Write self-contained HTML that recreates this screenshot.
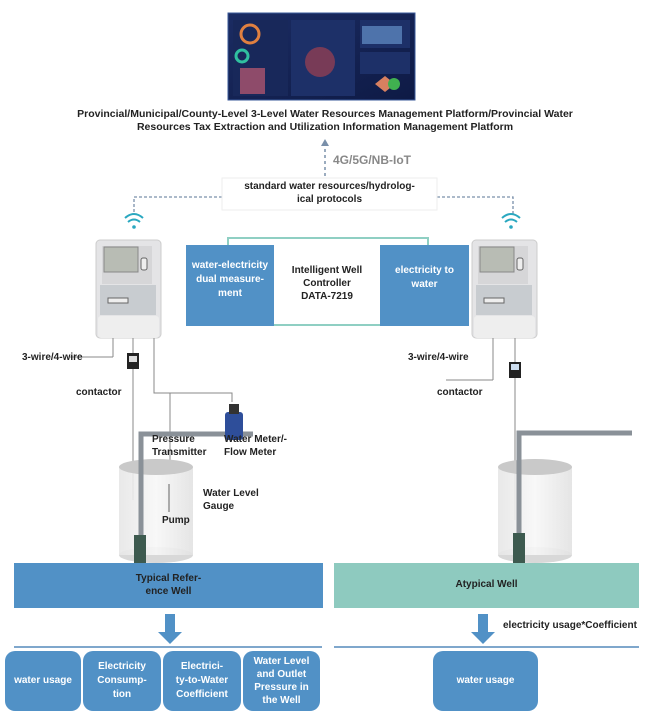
<!DOCTYPE html>
<html><head><meta charset="utf-8"><style>
body{margin:0;width:651px;height:717px;background:#fff;position:relative;overflow:hidden;font-family:"Liberation Sans",sans-serif;}
.t{position:absolute;font-weight:bold;font-size:10px;color:#222;line-height:13px;}
.c{text-align:center;}
.b{position:absolute;background:#5191c6;color:#fff;font-weight:bold;font-size:10px;text-align:center;display:flex;align-items:center;justify-content:center;line-height:14px;}
</style></head><body>
<svg width="651" height="717" style="position:absolute;left:0;top:0">
<defs>
<linearGradient id="dash" x1="0" y1="0" x2="1" y2="1"><stop offset="0" stop-color="#1b2c63"/><stop offset="1" stop-color="#0e1a45"/></linearGradient>
<linearGradient id="cyl" x1="0" x2="1"><stop offset="0" stop-color="#e6e6e6"/><stop offset="0.5" stop-color="#f7f7f7"/><stop offset="1" stop-color="#e2e2e2"/></linearGradient>
</defs>
<rect x="228" y="13" width="187" height="87" fill="url(#dash)" stroke="#3a5a9a"/>
<rect x="233" y="20" width="55" height="76" fill="#18285a"/>
<circle cx="250" cy="34" r="9" fill="none" stroke="#e08040" stroke-width="3"/>
<circle cx="242" cy="56" r="6" fill="none" stroke="#30c0a0" stroke-width="3"/>
<rect x="240" y="68" width="25" height="26" fill="#c05a70" opacity=".7"/>
<rect x="291" y="20" width="64" height="76" fill="#1d3068"/>
<circle cx="320" cy="62" r="15" fill="#a04050" opacity=".7"/>
<rect x="360" y="20" width="50" height="28" fill="#1d3068"/>
<rect x="362" y="26" width="40" height="18" fill="#6fa0d8" opacity=".6"/>
<rect x="360" y="52" width="50" height="22" fill="#1d3068"/>
<path d="M375 84 l10 -8 l10 8 l-10 8z" fill="#d88060"/>
<circle cx="394" cy="84" r="6" fill="#40b050"/>
<line x1="325" y1="176" x2="325" y2="145" stroke="#7a90aa" stroke-width="1.5" stroke-dasharray="3,3"/>
<path d="M321 146 L325 139 L329 146Z" fill="#7a90aa"/>
<path d="M222 197 H134 V215 M437 197 H513 V215" fill="none" stroke="#7a90aa" stroke-width="1.3" stroke-dasharray="3,2"/>
<rect x="222" y="178" width="215" height="32" fill="#fff" stroke="#eee"/>
<g fill="none" stroke="#2aa8c0" stroke-width="2">
<path d="M128 222 q6 -5 12 0"/><path d="M125 218 q9 -8 18 0"/>
<path d="M505 222 q6 -5 12 0"/><path d="M502 218 q9 -8 18 0"/>
</g>
<circle cx="134" cy="227" r="1.8" fill="#2aa8c0"/><circle cx="511" cy="227" r="1.8" fill="#2aa8c0"/>
<rect x="228" y="238" width="200" height="87" fill="#fff" stroke="#8fcfc3" stroke-width="2"/>
<g id="m">
<rect x="96" y="240" width="65" height="98" rx="4" fill="#e4e4e6" stroke="#ccc"/>
<rect x="102" y="246" width="50" height="38" fill="#d6d6d8"/>
<rect x="104" y="247" width="34" height="25" fill="#b8bcb4" stroke="#888"/>
<rect x="141" y="258" width="6" height="12" rx="2" fill="#eee" stroke="#666"/>
<rect x="100" y="285" width="56" height="30" fill="#c8ccd0"/>
<rect x="108" y="298" width="20" height="5" fill="#eee" stroke="#666"/>
<rect x="98" y="316" width="61" height="22" rx="3" fill="#eeeeee"/>
</g>
<use href="#m" transform="translate(376,0)"/>
<g stroke="#888" stroke-width="1" fill="none">
<line x1="70" y1="357" x2="113" y2="357"/><line x1="113" y1="338" x2="113" y2="357"/>
<line x1="133" y1="338" x2="133" y2="500"/>
<path d="M154 338 V393 H232 V402"/>
<line x1="170" y1="393" x2="170" y2="470"/>
<line x1="446" y1="380" x2="493" y2="380"/><line x1="493" y1="338" x2="493" y2="380"/>
<line x1="515" y1="338" x2="515" y2="520"/>
</g>
<rect x="127" y="353" width="12" height="16" fill="#222"/><rect x="129" y="356" width="8" height="6" fill="#ddd"/>
<rect x="509" y="362" width="12" height="16" fill="#222"/><rect x="511" y="364" width="8" height="6" fill="#cde"/>
<ellipse cx="156" cy="555" rx="37" ry="8" fill="#d8d8d8"/>
<rect x="119" y="467" width="74" height="88" fill="url(#cyl)" opacity=".9"/>
<ellipse cx="156" cy="467" rx="37" ry="8" fill="#c9c9c9"/>
<path d="M141 536 V434 H253" fill="none" stroke="#8a9198" stroke-width="5"/>
<rect x="134" y="535" width="12" height="45" fill="#3d5a4f"/>
<rect x="168" y="484" width="2" height="28" fill="#aaa"/>
<rect x="225" y="412" width="18" height="28" rx="3" fill="#2e4e9a"/>
<rect x="229" y="404" width="10" height="10" fill="#333"/>
<ellipse cx="535" cy="555" rx="37" ry="8" fill="#d8d8d8"/>
<rect x="498" y="467" width="74" height="88" fill="url(#cyl)" opacity=".9"/>
<ellipse cx="535" cy="467" rx="37" ry="8" fill="#c9c9c9"/>
<path d="M519 534 V433 H632" fill="none" stroke="#8a9198" stroke-width="5"/>
<rect x="513" y="533" width="12" height="45" fill="#3d5a4f"/>
<rect x="14" y="563" width="309" height="45" fill="#5191c6"/>
<rect x="334" y="563" width="305" height="45" fill="#8ecabf"/>
<path d="M165 614 h10 v18 h7 l-12 12 l-12 -12 h7z" fill="#5191c6"/>
<path d="M478 614 h10 v18 h7 l-12 12 l-12 -12 h7z" fill="#5191c6"/>
<line x1="14" y1="647" x2="322" y2="647" stroke="#7fa7cc" stroke-width="2"/>
<line x1="334" y1="647" x2="639" y2="647" stroke="#7fa7cc" stroke-width="2"/>
</svg>
<div class="t c" style="left:30px;top:108px;width:590px;font-size:10.5px;">Provincial/Municipal/County-Level 3-Level Water Resources Management Platform/Provincial Water<br>Resources Tax Extraction and Utilization Information Management Platform</div>
<div style="position:absolute;left:333px;top:153px;font-size:12px;color:#888;font-weight:bold;">4G/5G/NB-IoT</div>
<div class="t c" style="left:222px;top:180px;width:215px;">standard water resources/hydrolog-<br>ical protocols</div>
<div class="b" style="left:186px;top:245px;width:88px;height:81px;align-items:flex-start;padding-top:14px;box-sizing:border-box;">water-electricity<br>dual measure-<br>ment</div>
<div class="t c" style="left:274px;top:264px;width:106px;">Intelligent Well<br>Controller<br>DATA-7219</div>
<div class="b" style="left:380px;top:245px;width:89px;height:81px;align-items:flex-start;padding-top:19px;box-sizing:border-box;">electricity to<br>water</div>
<div class="t" style="left:22px;top:351px;">3-wire/4-wire</div>
<div class="t" style="left:76px;top:386px;">contactor</div>
<div class="t" style="left:408px;top:351px;">3-wire/4-wire</div>
<div class="t" style="left:437px;top:386px;">contactor</div>
<div class="t" style="left:152px;top:433px;">Pressure<br>Transmitter</div>
<div class="t" style="left:224px;top:433px;">Water Meter/-<br>Flow Meter</div>
<div class="t" style="left:203px;top:487px;">Water Level<br>Gauge</div>
<div class="t" style="left:162px;top:514px;">Pump</div>
<div class="t c" style="left:14px;top:572px;width:309px;">Typical Refer-<br>ence Well</div>
<div class="t c" style="left:334px;top:578px;width:305px;">Atypical Well</div>
<div class="t" style="left:503px;top:619px;">electricity usage*Coefficient</div>
<div class="b" style="left:5px;top:651px;width:76px;height:60px;border-radius:10px;">water usage</div>
<div class="b" style="left:83px;top:651px;width:78px;height:60px;border-radius:10px;">Electricity<br>Consump-<br>tion</div>
<div class="b" style="left:163px;top:651px;width:78px;height:60px;border-radius:10px;">Electrici-<br>ty-to-Water<br>Coefficient</div>
<div class="b" style="left:243px;top:651px;width:77px;height:60px;border-radius:10px;line-height:13px;">Water Level<br>and Outlet<br>Pressure in<br>the Well</div>
<div class="b" style="left:433px;top:651px;width:105px;height:60px;border-radius:10px;">water usage</div>
</body></html>
